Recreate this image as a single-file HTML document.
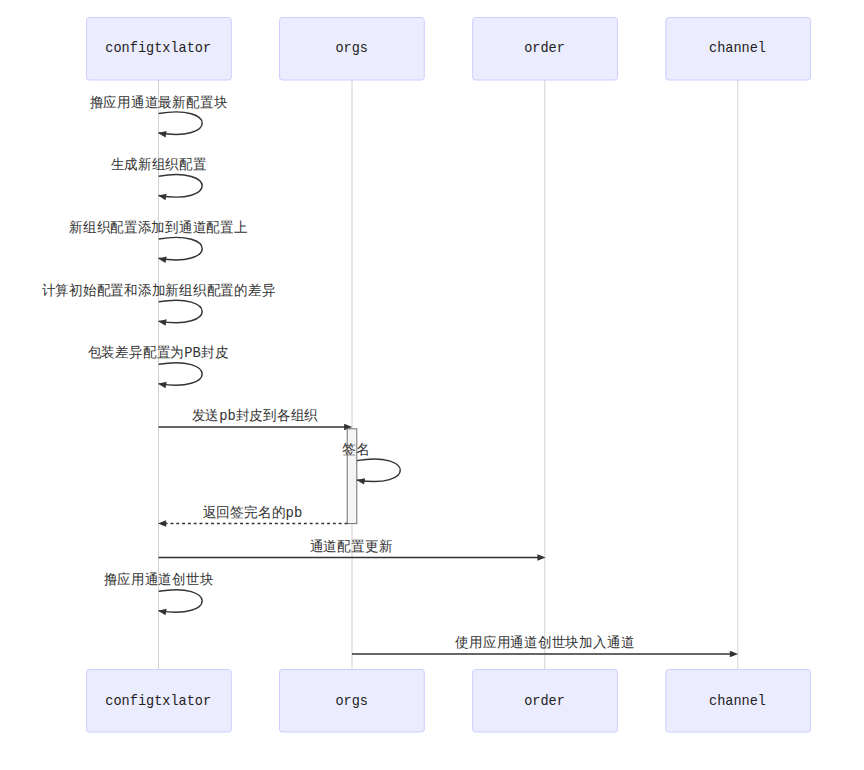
<!DOCTYPE html>
<html><head><meta charset="utf-8"><style>
html,body{margin:0;padding:0;background:#fff;width:864px;height:770px;overflow:hidden}
svg{display:block}
.act{font-family:"Liberation Mono",monospace;font-size:14px;fill:#222}
.msg{font-family:"Liberation Sans",sans-serif;font-size:14.0px;fill:#333}
.mono{font-family:"Liberation Mono",monospace;font-size:14.000px}
</style></head><body>
<svg width="864" height="770" viewBox="0 0 864 770">
<line x1="158.5" y1="80.0" x2="158.5" y2="669.5" stroke="#aaa" stroke-width="0.55"/>
<line x1="352.0" y1="80.0" x2="352.0" y2="669.5" stroke="#aaa" stroke-width="0.55"/>
<line x1="544.8" y1="80.0" x2="544.8" y2="669.5" stroke="#aaa" stroke-width="0.55"/>
<line x1="737.8" y1="80.0" x2="737.8" y2="669.5" stroke="#aaa" stroke-width="0.55"/>
<rect x="86.50" y="17.5" width="144.80" height="62.50" rx="2.9" ry="2.9" fill="#ECECFF" stroke="#CCCCFF" stroke-width="0.97"/><text transform="translate(158.20,52.00) scale(0.969,1)" text-anchor="middle" class="act">configtxlator</text>
<rect x="86.50" y="669.5" width="144.80" height="62.50" rx="2.9" ry="2.9" fill="#ECECFF" stroke="#CCCCFF" stroke-width="0.97"/><text transform="translate(158.20,704.80) scale(0.969,1)" text-anchor="middle" class="act">configtxlator</text>
<rect x="279.50" y="17.5" width="144.80" height="62.50" rx="2.9" ry="2.9" fill="#ECECFF" stroke="#CCCCFF" stroke-width="0.97"/><text transform="translate(351.70,52.00) scale(0.969,1)" text-anchor="middle" class="act">orgs</text>
<rect x="279.50" y="669.5" width="144.80" height="62.50" rx="2.9" ry="2.9" fill="#ECECFF" stroke="#CCCCFF" stroke-width="0.97"/><text transform="translate(351.70,704.80) scale(0.969,1)" text-anchor="middle" class="act">orgs</text>
<rect x="472.70" y="17.5" width="144.80" height="62.50" rx="2.9" ry="2.9" fill="#ECECFF" stroke="#CCCCFF" stroke-width="0.97"/><text transform="translate(544.50,52.00) scale(0.969,1)" text-anchor="middle" class="act">order</text>
<rect x="472.70" y="669.5" width="144.80" height="62.50" rx="2.9" ry="2.9" fill="#ECECFF" stroke="#CCCCFF" stroke-width="0.97"/><text transform="translate(544.50,704.80) scale(0.969,1)" text-anchor="middle" class="act">order</text>
<rect x="665.80" y="17.5" width="144.80" height="62.50" rx="2.9" ry="2.9" fill="#ECECFF" stroke="#CCCCFF" stroke-width="0.97"/><text transform="translate(737.50,52.00) scale(0.969,1)" text-anchor="middle" class="act">channel</text>
<rect x="665.80" y="669.5" width="144.80" height="62.50" rx="2.9" ry="2.9" fill="#ECECFF" stroke="#CCCCFF" stroke-width="0.97"/><text transform="translate(737.50,704.80) scale(0.969,1)" text-anchor="middle" class="act">channel</text>
<text transform="translate(89.60,106.68) scale(0.9862,1.019)" class="msg">撸应用通道最新配置块</text>
<path d="M 158.7,113.5 C 216.66,103.84 216.66,142.48 158.7,132.82" fill="none" stroke="#333" stroke-width="1.45"/>
<path d="M 158.00,132.92 L 166.62,131.06 L 165.55,137.47 Z" fill="#333"/>
<text transform="translate(110.51,169.21) scale(0.9798,1.019)" class="msg">生成新组织配置</text>
<path d="M 158.7,176.2 C 216.66,166.54 216.66,205.18 158.7,195.52" fill="none" stroke="#333" stroke-width="1.45"/>
<path d="M 158.00,195.62 L 166.62,193.76 L 165.55,200.17 Z" fill="#333"/>
<text transform="translate(69.11,232.18) scale(0.9808,1.019)" class="msg">新组织配置添加到通道配置上</text>
<path d="M 158.7,239.0 C 216.66,229.34 216.66,267.98 158.7,258.32" fill="none" stroke="#333" stroke-width="1.45"/>
<path d="M 158.00,258.42 L 166.62,256.56 L 165.55,262.97 Z" fill="#333"/>
<text transform="translate(41.53,294.81) scale(0.9835,1.019)" class="msg">计算初始配置和添加新组织配置的差异</text>
<path d="M 158.7,301.8 C 216.66,292.14 216.66,330.78 158.7,321.12" fill="none" stroke="#333" stroke-width="1.45"/>
<path d="M 158.00,321.22 L 166.62,319.36 L 165.55,325.77 Z" fill="#333"/>
<text transform="translate(87.71,357.28) scale(0.9875,1.019)" class="msg">包装差异配置为<tspan class="mono">PB</tspan>封皮</text>
<path d="M 158.7,364.3 C 216.66,354.64 216.66,393.28 158.7,383.62" fill="none" stroke="#333" stroke-width="1.45"/>
<path d="M 158.00,383.72 L 166.62,381.86 L 165.55,388.27 Z" fill="#333"/>
<text transform="translate(191.74,419.96) scale(0.9834,1.019)" class="msg">发送<tspan class="mono">pb</tspan>封皮到各组织</text>
<line x1="158.5" y1="427.0" x2="346.0" y2="427.0" stroke="#333" stroke-width="1.45"/>
<path d="M 352.3,427.0 L 344.10,423.75 L 344.10,430.25 Z" fill="#333"/>
<rect x="347.2" y="428.8" width="9.6" height="94.8" fill="#f4f4f4" stroke="#777" stroke-width="1.05"/>
<text transform="translate(342.24,454.28) scale(1.0122,1.019)" class="msg">签名</text>
<path d="M 356.8,460.6 C 414.76,450.94 414.76,489.58 356.8,479.92" fill="none" stroke="#333" stroke-width="1.45"/>
<path d="M 356.50,480.02 L 365.12,478.16 L 364.05,484.57 Z" fill="#333"/>
<text transform="translate(202.57,516.72) scale(0.9947,1.019)" class="msg">返回签完名的<tspan class="mono">pb</tspan></text>
<line x1="347.4" y1="523.5" x2="164.5" y2="523.5" stroke="#333" stroke-width="1.45" stroke-dasharray="2.9,2.9"/>
<path d="M 157.9,523.5 L 166.10,520.25 L 166.10,526.75 Z" fill="#333"/>
<text transform="translate(309.57,550.68) scale(0.9902,1.019)" class="msg">通道配置更新</text>
<line x1="158.5" y1="557.5" x2="538.8" y2="557.5" stroke="#333" stroke-width="1.45"/>
<path d="M 545.6,557.5 L 537.40,554.25 L 537.40,560.75 Z" fill="#333"/>
<text transform="translate(103.60,584.48) scale(0.9791,1.019)" class="msg">撸应用通道创世块</text>
<path d="M 158.7,591.3 C 216.66,581.64 216.66,620.28 158.7,610.62" fill="none" stroke="#333" stroke-width="1.45"/>
<path d="M 158.00,610.72 L 166.62,608.86 L 165.55,615.27 Z" fill="#333"/>
<text transform="translate(455.41,647.18) scale(0.9850,1.019)" class="msg">使用应用通道创世块加入通道</text>
<line x1="352.0" y1="654.0" x2="731.8" y2="654.0" stroke="#333" stroke-width="1.45"/>
<path d="M 738.1,654.0 L 729.90,650.75 L 729.90,657.25 Z" fill="#333"/>
</svg>
</body></html>
